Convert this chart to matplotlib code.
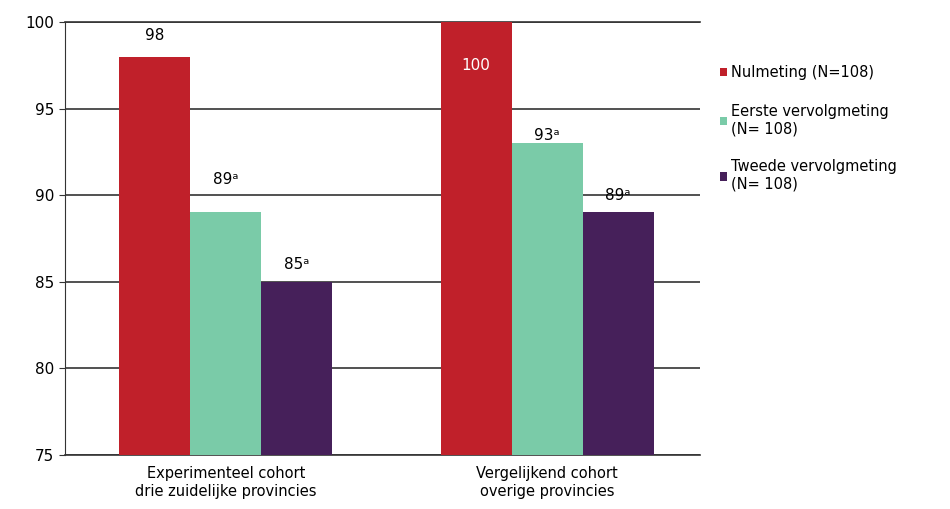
import matplotlib.pyplot as plt
import numpy as np

groups = ["Experimenteel cohort\ndrie zuidelijke provincies",
          "Vergelijkend cohort\noverige provincies"]
series = ["Nulmeting (N=108)",
          "Eerste vervolgmeting\n(N= 108)",
          "Tweede vervolgmeting\n(N= 108)"]
values = [[98, 100], [89, 93], [85, 89]]
labels = [["98", "100"], ["89ᵃ", "93ᵃ"], ["85ᵃ", "89ᵃ"]]
colors = ["#C0202A", "#7ACBA8", "#46205A"]

# label offsets above the bars (points), as placed in the original
offsets = [[10, -37], [18, 0], [7, 7]]

plt.rcParams['font.family'] = ['DejaVu Sans']
fig = plt.figure(figsize=(9.5, 5.09), dpi=100)
ax = fig.add_axes([0.068, 0.106, 0.669, 0.851])

x = np.arange(len(groups))
w = 0.221
for i in range(3):
    bars = ax.bar(x + (i - 1) * w, values[i], w, color=colors[i],
                  label=series[i], zorder=3)
    for j, b in enumerate(bars):
        h = values[i][j]
        inside = h >= 100
        ax.annotate(labels[i][j], (b.get_x() + b.get_width() / 2, h),
                    xytext=(0, offsets[i][j]), textcoords="offset points",
                    ha="center", va="bottom", fontsize=11, zorder=4,
                    color="white" if inside else "black")

ax.set_ylim(75, 100)
ax.set_xlim(-0.502, 1.476)
ax.set_yticks([75, 80, 85, 90, 95, 100])
ax.set_xticks(x)
ax.set_xticklabels(groups, fontsize=10.5)
ax.tick_params(axis="y", labelsize=11, length=4, color="#333333")
ax.tick_params(axis="x", length=0, pad=8)
ax.yaxis.grid(True, color="#333333", linewidth=1.2, zorder=0)
ax.set_axisbelow(True)
ax.spines["right"].set_visible(False)
ax.spines["left"].set_color("#333333")
for s in ["top", "bottom"]:
    ax.spines[s].set_color("#333333")
    ax.spines[s].set_linewidth(1.2)
    ax.spines[s].set_zorder(2)

ax.legend(loc="upper left", bbox_to_anchor=(1.01, 0.93), frameon=False,
          fontsize=10.5, handlelength=0.5, handleheight=0.5,
          handletextpad=0.3, labelspacing=1.6)

plt.savefig("out.png", dpi=100)
plt.close()
